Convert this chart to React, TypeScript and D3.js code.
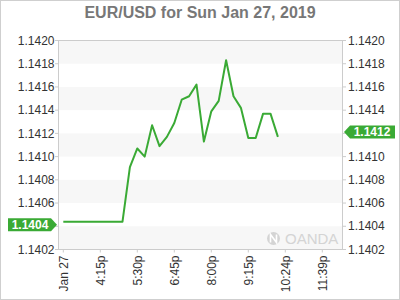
import React from "react";
import * as d3 from "d3";

const title = "EUR/USD for Sun Jan 27, 2019";
const prices: number[] = [
  1.14044, 1.14044, 1.14044, 1.14044, 1.14044, 1.14044, 1.14044, 1.14044, 1.14044,
  1.14091, 1.14107, 1.141, 1.14127, 1.14109, 1.14117, 1.14129, 1.14149, 1.14152,
  1.14162, 1.14113, 1.14139, 1.14148, 1.14183, 1.14152, 1.14142, 1.14116, 1.14116,
  1.14137, 1.14137, 1.14117,
];
const xTickIdx: number[] = [0, 5, 10, 15, 20, 25, 30, 35];
const xTickLabels: string[] = ["Jan 27", "4:15p", "5:30p", "6:45p", "8:00p", "9:15p", "10:24p", "11:39p"];
const yTicks: number[] = [1.1402, 1.1404, 1.1406, 1.1408, 1.141, 1.1412, 1.1414, 1.1416, 1.1418, 1.142];

const W = 400, H = 300;
const L = 58, R = 343, T = 40.5, B = 249.5;
const GREEN = "#3aaa35";
const FONT = "Liberation Sans, Arial, sans-serif";

export default function App() {
  const x = d3.scaleLinear().domain([0, 35]).range([63.3, 322.3]);
  const y = d3.scaleLinear().domain([1.1402, 1.142]).range([B, T]);
  const line = d3.line<number>().x((_, i) => x(i)).y((d) => y(d));
  const first = Math.round(prices[0] * 10000) / 10000;
  const last = Math.round(prices[prices.length - 1] * 10000) / 10000;
  const fy = y(first) - 1.5;
  const ly = y(last) - 1.5;
  const bands = yTicks.slice(0, -1).filter((_, i) => i % 2 === 0);
  return (
    <svg width={W} height={H} style={{ position: "absolute", left: 0, top: 0 }} fontFamily={FONT}>
      <rect x={0} y={0} width={W} height={H} fill="#fff" />
      <rect x={0.5} y={0.5} width={W - 1} height={H - 1} fill="none" stroke="#cfcfcf" />
      <text x={200} y={18} textAnchor="middle" fontSize={16} fontWeight="bold" fill="#777">{title}</text>
      {bands.map((v) => (
        <rect key={v} x={L} width={R - L} y={y(v + 0.0002)} height={y(v) - y(v + 0.0002)} fill="#f7f7f7" />
      ))}
      <rect x={L + 0.5} y={T} width={R - L - 1} height={B - T} fill="none" stroke="#cccccc" />
      {yTicks.map((v) => (
        <g key={v}>
          <line x1={L - 3} x2={L} y1={y(v)} y2={y(v)} stroke="#ccc" />
          <line x1={R} x2={R + 3} y1={y(v)} y2={y(v)} stroke="#ccc" />
          {Math.abs(v - first) > 1e-7 && (
            <text x={54.5} y={y(v)} dy="0.35em" textAnchor="end" fontSize={12} fill="#333">{v.toFixed(4)}</text>
          )}
          {Math.abs(v - last) > 1e-7 && (
            <text x={348} y={y(v)} dy="0.35em" textAnchor="start" fontSize={12} fill="#333">{v.toFixed(4)}</text>
          )}
        </g>
      ))}
      {xTickIdx.map((idx, i) => (
        <g key={idx}>
          <line x1={x(idx)} x2={x(idx)} y1={B} y2={B + 3} stroke="#ccc" />
          <text transform={`translate(${x(idx)},${B + 6}) rotate(-90)`} dy="0.35em" textAnchor="end" fontSize={12} fill="#333">{xTickLabels[i]}</text>
        </g>
      ))}
      <g>
        <circle cx={273.5} cy={238.5} r={6.5} fill="#d4d4d4" />
        <path d="M270.5,242.5 L270.5,234.5 L276.5,242.5 L276.5,234.5" fill="none" stroke="#fff" strokeWidth={1.6} />
        <text x={285} y={244} fontSize={15} fill="#d4d4d4">OANDA</text>
      </g>
      <path d={line(prices) ?? ""} fill="none" stroke={GREEN} strokeWidth={2} strokeLinejoin="round" />
      <g>
        <path d={`M${L - 1},${fy} L${L - 7},${fy - 6.5} L8,${fy - 6.5} L8,${fy + 6.5} L${L - 7},${fy + 6.5} Z`} fill={GREEN} />
        <text x={30} y={fy} dy="0.36em" textAnchor="middle" fontSize={12} fontWeight="bold" fill="#fff">{first.toFixed(4)}</text>
        <path d={`M${R + 1},${ly} L${R + 7},${ly - 6.5} L395,${ly - 6.5} L395,${ly + 6.5} L${R + 7},${ly + 6.5} Z`} fill={GREEN} />
        <text x={372} y={ly} dy="0.36em" textAnchor="middle" fontSize={12} fontWeight="bold" fill="#fff">{last.toFixed(4)}</text>
      </g>
    </svg>
  );
}
